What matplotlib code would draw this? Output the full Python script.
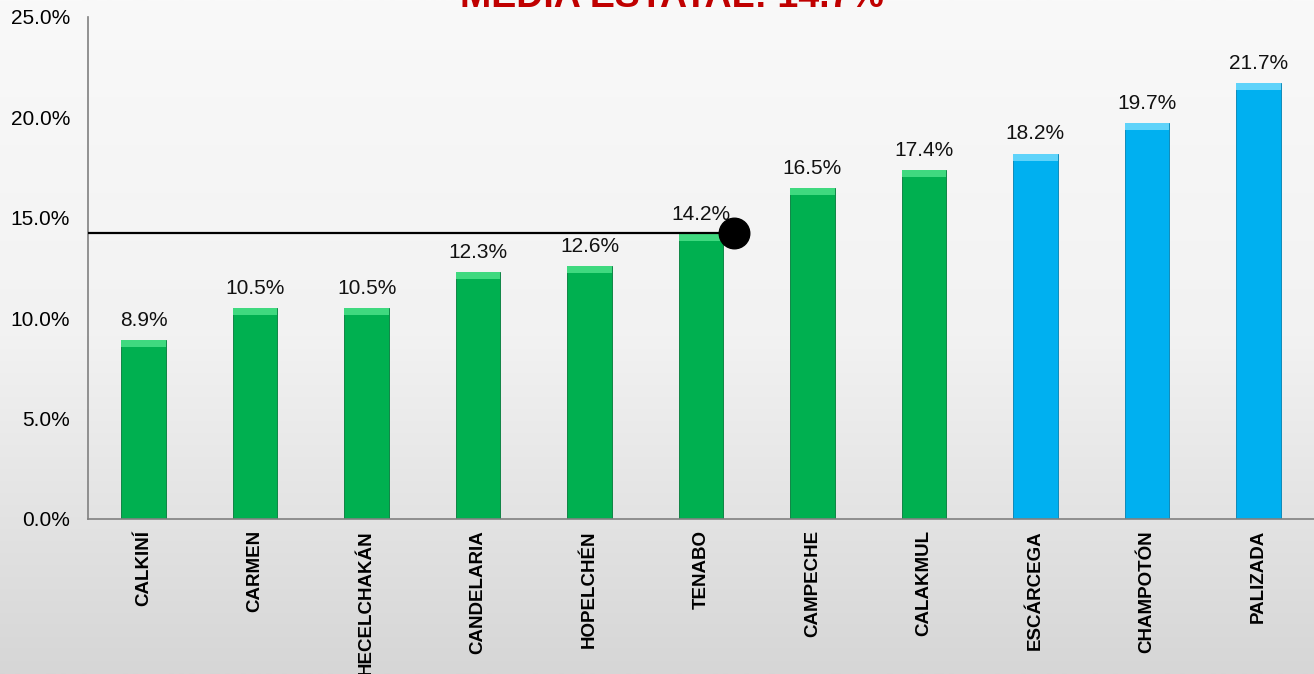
import numpy as np
import matplotlib.pyplot as plt
from matplotlib.colors import LinearSegmentedColormap

plt.rcParams['font.family'] = ['Liberation Sans', 'DejaVu Sans']

municipios = ['CALKINÍ', 'CARMEN', 'HECELCHAKÁN', 'CANDELARIA', 'HOPELCHÉN', 'TENABO',
              'CAMPECHE', 'CALAKMUL', 'ESCÁRCEGA', 'CHAMPOTÓN', 'PALIZADA']
valores = [8.9, 10.5, 10.5, 12.3, 12.6, 14.2, 16.5, 17.4, 18.2, 19.7, 21.7]
grupo = ['bajo'] * 8 + ['alto'] * 3
media_estatal = 14.7
linea_media = 14.25
yticks = [0, 5, 10, 15, 20, 25]

colores = {'bajo': '#00B050', 'alto': '#00B0F0'}
bisel = {'bajo': '#3FD97F', 'alto': '#5FD3FA'}
borde = {'bajo': '#007A38', 'alto': '#0080B0'}

fig = plt.figure(figsize=(13.14, 6.74), dpi=100)

# fondo degradado
bg = fig.add_axes([0, 0, 1, 1], zorder=-10)
grad = np.linspace(0, 1, 256).reshape(-1, 1)
cmap = LinearSegmentedColormap.from_list('bg', ['#F9F9F9', '#F2F2F2', '#D6D6D6'])
bg.imshow(grad, aspect='auto', cmap=cmap, extent=[0, 1, 0, 1], origin='upper')
bg.axis('off')

ax = fig.add_axes([88 / 1314, 155 / 674, 1 - 88 / 1314, (519 - 17) / 674])
ax.patch.set_alpha(0)

x = np.arange(len(municipios))
w = 0.40
for i, (v, g) in enumerate(zip(valores, grupo)):
    ax.bar(i, v, width=w, color=colores[g], edgecolor=borde[g], linewidth=0.6, zorder=2)
    ax.bar(i, 0.35, bottom=v - 0.35, width=w, color=bisel[g], edgecolor='none', zorder=3)
    ax.text(i, v + 0.7, f'{v:.1f}%', ha='center', va='baseline', fontsize=15, color='#111111')

# linea de la media
ax.plot([-0.5, 5.3], [linea_media, linea_media], color='black', lw=1.6, zorder=4,
        solid_capstyle='butt')
ax.plot([5.3], [linea_media], 'o', color='black', markersize=22, zorder=5)

ax.set_xlim(-0.5, len(municipios) - 0.5)
ax.set_ylim(0, 25)
ax.set_yticks(yticks)
ax.set_yticklabels([f'{t:.1f}%' for t in yticks], fontsize=15)
ax.set_xticks(x)
ax.set_xticklabels(municipios, rotation=90, fontsize=13.5, fontweight='bold', va='top')
ax.tick_params(axis='y', length=0, pad=13)
ax.tick_params(axis='x', length=0, pad=8)
for s in ['top', 'right']:
    ax.spines[s].set_visible(False)
for s in ['left', 'bottom']:
    ax.spines[s].set_color('#808080')
    ax.spines[s].set_linewidth(1.2)

fig.text(672 / 1314, 1 - 7 / 674, f'MEDIA ESTATAL: {media_estatal}%', ha='center', va='baseline',
         fontsize=27, fontweight='bold', color='#C00000')

fig.savefig('out.png', dpi=100)
